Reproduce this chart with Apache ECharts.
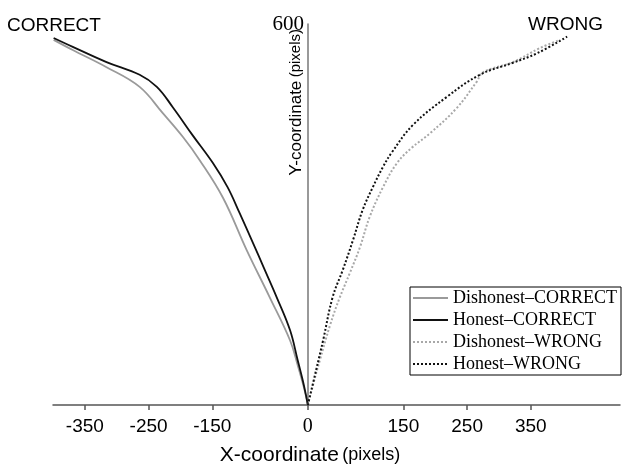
<!DOCTYPE html>
<html>
<head>
<meta charset="utf-8">
<script src="https://cdn.jsdelivr.net/npm/echarts@6/dist/echarts.min.js"></script>
<style>
  html, body { margin: 0; padding: 0; background: #fff; }
  #chart { width: 622px; height: 467px; }
</style>
</head>
<body>
<div id="chart"></div>
<script>
// 轨迹数据 (x, y) 单位: 像素
const dishonestCorrect = [
  [-399, 575], [-369, 559], [-316, 532], [-264, 501], [-228, 460], [-196, 422],
  [-170, 386], [-133, 326], [-96, 244], [-60, 170], [-28, 102], [-16, 63],
  [-6, 27], [0, 0]
];
const honestCorrect = [
  [-399, 578], [-369, 564], [-316, 540], [-264, 520], [-237, 501], [-212, 469],
  [-181, 425], [-149, 381], [-126, 343], [-107, 302], [-86, 255], [-69, 216],
  [-49, 170], [-28, 118], [-16, 71], [-8, 39], [-3, 16], [0, 0]
];
const dishonestWrong = [
  [0, 0], [8, 31], [19, 71], [35, 126], [50, 169], [66, 208], [82, 249],
  [97, 296], [118, 343], [140, 381], [163, 405], [192, 428], [234, 468],
  [265, 509], [275, 524], [322, 540], [364, 562], [396, 575]
];
const honestWrong = [
  [0, 0], [13, 55], [24, 102], [39, 170], [55, 213], [71, 260], [86, 307],
  [102, 343], [118, 375], [132, 398], [165, 441], [218, 485], [270, 520],
  [322, 539], [360, 554], [407, 580]
];
const xTicks = [-350, -250, -150, 0, 150, 250, 350];
const yTicks = [600];

const SANS = "Liberation Sans, Arial, sans-serif";
const SERIF = "Liberation Serif, Times New Roman, serif";

const chart = echarts.init(document.getElementById("chart"));

const lineSeries = (name, data, color, dashed) => ({
  name,
  type: "line",
  data,
  smooth: 0.4,
  symbol: "none",
  lineStyle: { color, width: dashed ? 2 : 1.8, type: dashed ? [2, 2] : "solid" },
  itemStyle: { color },
});

chart.setOption({
  animation: false,
  grid: { left: 53, right: 2, top: 24, bottom: 62 },
  xAxis: {
    type: "value",
    min: -400,
    max: 490,
    splitLine: { show: false },
    axisLine: { lineStyle: { color: "#555", width: 1.5 } },
    axisTick: { customValues: xTicks, length: 5, lineStyle: { color: "#555", width: 1.5 } },
    axisLabel: {
      customValues: xTicks,
      margin: 12,
      color: "#000",
      fontFamily: SANS,
      fontSize: 19,
      formatter: v => (v === 0 ? "{s|0}" : String(v)),
      rich: { s: { fontFamily: SERIF, fontSize: 20, color: "#000" } },
    },
  },
  yAxis: {
    type: "value",
    min: 0,
    max: 600,
    position: "left",
    offset: -255, // 把纵轴移到 x = 0 处
    splitLine: { show: false },
    axisLine: { onZero: false, lineStyle: { color: "#777", width: 1.5 } },
    axisTick: { show: false },
    axisLabel: {
      customValues: yTicks,
      margin: 4,
      color: "#000",
      fontFamily: SERIF,
      fontSize: 21,
    },
  },
  legend: {
    orient: "vertical",
    left: 410,
    top: 287,
    padding: [2, 4, 2, 2],
    itemGap: 4,
    itemWidth: 35,
    itemHeight: 14,
    itemTextGap: 2,
    itemStyle: { opacity: 0 },
    borderColor: "#000",
    borderWidth: 1,
    borderRadius: 0,
    textStyle: { fontFamily: SERIF, fontSize: 18, lineHeight: 18, color: "#000" },
    data: ["Dishonest\u2013CORRECT", "Honest\u2013CORRECT", "Dishonest\u2013WRONG", "Honest\u2013WRONG"],
  },
  graphic: [
    { type: "text", x: 7, y: 26, style: { text: "CORRECT", font: "19px " + SANS, fill: "#000", textVerticalAlign: "middle" } },
    { type: "text", x: 603, y: 25, style: { text: "WRONG", font: "19px " + SANS, fill: "#000", textAlign: "right", textVerticalAlign: "middle" } },
    {
      type: "text", x: 310, y: 455,
      style: {
        text: "{a|X-coordinate} {b|(pixels)}",
        textAlign: "center", textVerticalAlign: "middle",
        rich: { a: { fontFamily: SANS, fontSize: 21, fill: "#000" }, b: { fontFamily: SANS, fontSize: 18, fill: "#000" } },
      },
    },
    {
      type: "text", x: 296, y: 29, rotation: Math.PI / 2,
      style: {
        text: "{a|Y-coordinate} {b|(pixels)}",
        textAlign: "right", textVerticalAlign: "middle",
        rich: { a: { fontFamily: SANS, fontSize: 17, fill: "#000" }, b: { fontFamily: SANS, fontSize: 15, fill: "#000" } },
      },
    },
  ],
  series: [
    lineSeries("Dishonest\u2013CORRECT", dishonestCorrect, "#9a9a9a", false),
    lineSeries("Honest\u2013CORRECT", honestCorrect, "#111", false),
    lineSeries("Dishonest\u2013WRONG", dishonestWrong, "#a8a8a8", true),
    lineSeries("Honest\u2013WRONG", honestWrong, "#111", true),
  ],
});
</script>
</body>
</html>
